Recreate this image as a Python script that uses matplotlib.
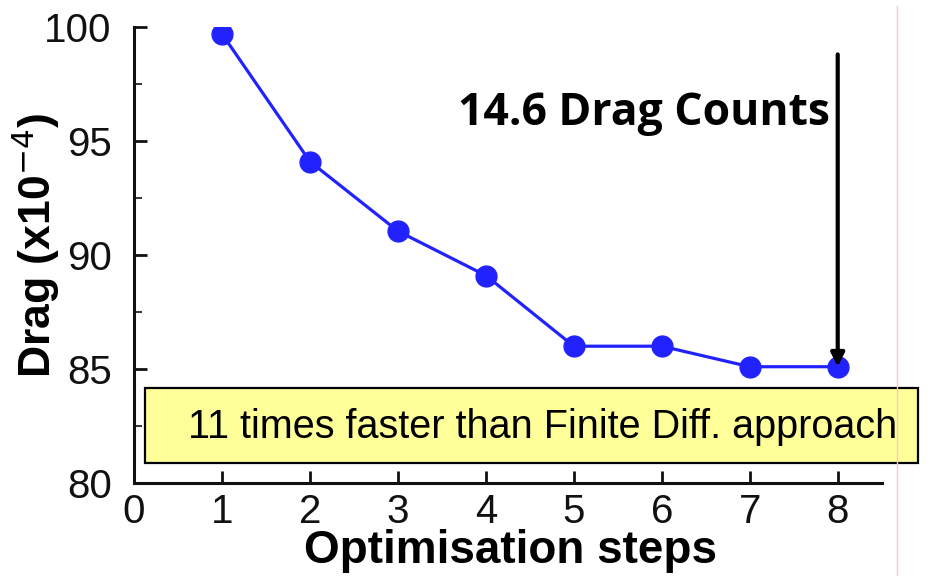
import matplotlib.pyplot as plt
from matplotlib.patches import Rectangle
from matplotlib.lines import Line2D
from matplotlib.ticker import MultipleLocator

# optimisation history
steps = [1, 2, 3, 4, 5, 6, 7, 8]
drag = [99.7, 94.1, 91.05, 89.1, 86.0, 86.0, 85.1, 85.1]
x_ticks = [0, 1, 2, 3, 4, 5, 6, 7, 8]
y_ticks = [80, 85, 90, 95, 100]
gain_text = '14.6 Drag Counts'
speed_text = '11 times faster than Finite Diff. approach'

plt.rcParams['font.family'] = ['Liberation Sans', 'DejaVu Sans']

fig = plt.figure(figsize=(9.34, 5.76), dpi=100)
ax = fig.add_axes([0.1435, 0.1615, 0.8005, 0.7915])

ax.plot(steps, drag, color='#2222ff', lw=2.3, marker='o', ms=15, mfc='#2222ff', mec='#2222ff', zorder=3)

ax.set_xlim(0, 8.5)
ax.set_ylim(80, 100)
ax.set_xticks(x_ticks)
ax.set_yticks(y_ticks)
ax.yaxis.set_minor_locator(MultipleLocator(2.5))

for s in ['top', 'right']:
    ax.spines[s].set_visible(False)
for s in ['left', 'bottom']:
    ax.spines[s].set_linewidth(2.2)
    ax.spines[s].set_color('#111111')

ax.tick_params(axis='both', which='major', direction='in', length=9, width=2, labelsize=29, colors='#111111')
ax.tick_params(axis='y', which='minor', direction='in', length=6, width=1.2, colors='#111111')
ax.tick_params(axis='y', which='major', pad=16)
ax.tick_params(axis='x', which='major', pad=7)

ax.set_ylabel('Drag (x10$^{-4}$)', fontsize=32, fontweight='bold')
ax.yaxis.set_label_coords(-0.096, 0.52)
ax.set_xlabel('Optimisation steps', fontsize=33, fontweight='bold')
ax.xaxis.set_label_coords(0.504, -0.1)

# arrow showing the total reduction
ax.annotate('', xy=(steps[-1], drag[-1]), xytext=(steps[-1], 98.8),
            arrowprops=dict(arrowstyle='-|>', color='black', lw=3, mutation_scale=20,
                            shrinkA=0, shrinkB=0), zorder=4)
ax.text(3.68, 96.2, gain_text, fontsize=32, fontweight='bold', family=['Open Sans', 'DejaVu Sans'],
        ha='left', va='center', zorder=5)

# yellow note box
ax.add_patch(Rectangle((0.125, 80.88), 8.785, 3.29, facecolor='#ffff99', edgecolor='black',
                       lw=1.6, clip_on=False, zorder=5))
ax.text(4.65, 82.45, speed_text, fontsize=28.5, ha='center', va='center', zorder=6)

# thin pink line near the right border
fig.add_artist(Line2D([0.960, 0.960], [0.0, 0.99], color='#ffc8c8', lw=1))

fig.savefig('out.png', dpi=100)
